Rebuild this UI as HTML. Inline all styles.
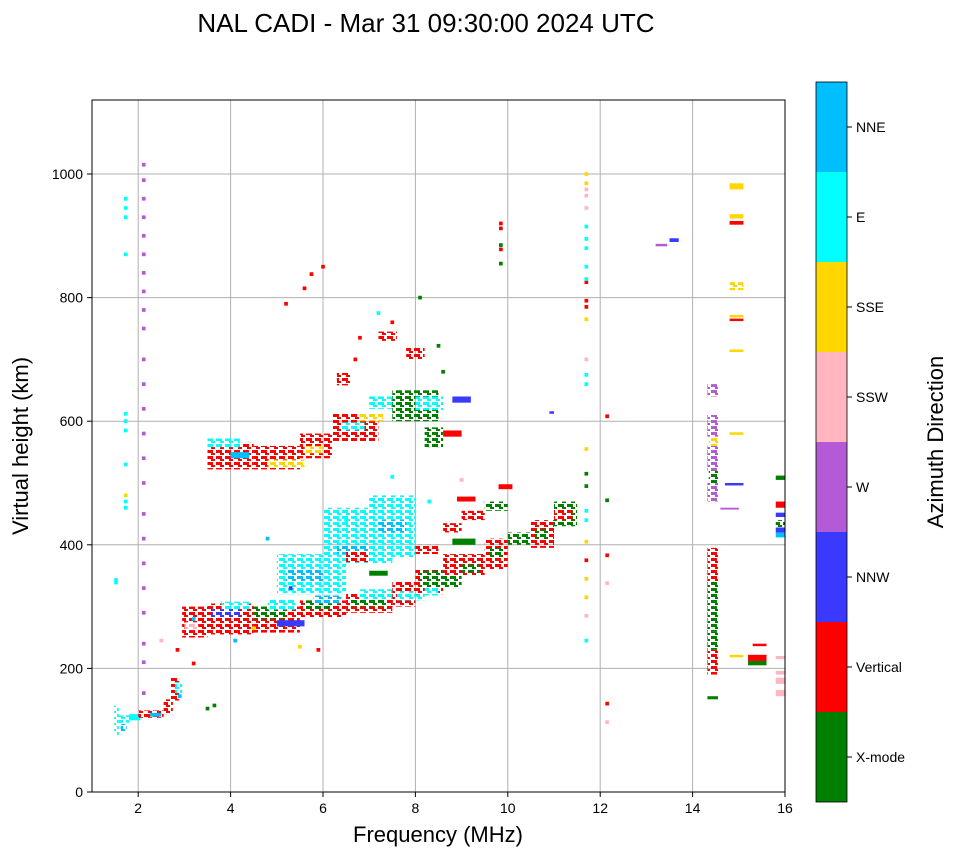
<!DOCTYPE html>
<html><head><meta charset="utf-8"><style>
body{margin:0;background:#fff;font-family:"Liberation Sans",sans-serif}
svg text{font-family:"Liberation Sans",sans-serif}
</style></head><body>
<svg id="chart" width="958" height="857" viewBox="0 0 958 857" xmlns="http://www.w3.org/2000/svg">
<defs id="defs"></defs>
<text x="426" y="32" font-size="26" text-anchor="middle">NAL CADI - Mar 31 09:30:00 2024 UTC</text>
<g id="grid"></g>
<g id="marks"></g>
<rect x="92" y="100" width="693" height="692" fill="none" stroke="#000" stroke-width="1"/>
<g id="axes"></g>
<text x="438" y="842" font-size="22" text-anchor="middle">Frequency (MHz)</text>
<text transform="translate(28,446) rotate(-90)" font-size="22" text-anchor="middle">Virtual height (km)</text>
<g id="cbar"></g>
<text transform="translate(943,442) rotate(-90)" font-size="22" text-anchor="middle">Azimuth Direction</text>
</svg>
<script>
const categories=["X-mode","Vertical","NNW","W","SSW","SSE","E","NNE"];
const catColors=["#008000","#ff0000","#3a3aff","#b35ad6","#ffb6c1","#ffd700","#00ffff","#00bfff"];
const xTicks=[2,4,6,8,10,12,14,16];
const yTicks=[0,200,400,600,800,1000];
// rectangles: [f0,f1,h0,h1,category]
const rects=[
[1.48,1.58,92,140,6],[1.58,1.8,112,124,6],[1.62,1.75,98,110,7],[1.8,2.05,116,126,6],[2.0,2.55,120,132,1],[2.25,2.5,122,128,7],
[2.55,2.75,126,150,1],[2.7,2.9,148,185,1],[2.8,2.95,160,178,6],[1.48,1.56,336,346,6],
[2.95,3.5,250,300,1],[3.0,3.3,262,275,4],[3.5,4.5,255,305,1],[3.6,4.2,282,296,2],[3.8,4.4,296,308,6],
[4.5,5.5,258,300,1],[4.5,5.2,280,300,0],[4.8,5.4,295,312,6],[5.0,5.6,268,278,2],
[5.5,6.5,282,310,1],[5.6,6.2,296,310,0],[5.8,6.4,305,318,7],
[6.5,7.5,290,322,1],[6.6,7.4,300,312,0],[6.8,7.6,312,328,6],
[7.5,8.0,300,340,1],[7.6,8.2,310,325,6],[8.0,8.6,320,360,1],[8.1,9.0,330,358,0],[8.2,8.5,318,330,6],
[8.6,9.5,350,385,1],[9.0,9.4,355,368,0],[9.5,10.0,360,410,1],[9.6,9.9,380,395,0],
[10.0,10.5,400,420,0],[10.5,11.0,395,440,1],[10.6,10.9,410,425,0],[11.0,11.5,430,470,0],[11.0,11.4,440,458,1],
[5.0,6.5,320,385,6],[5.2,6.0,340,360,7],[6.0,7.5,370,460,6],[6.3,7.0,385,400,7],[7.0,8.0,380,480,6],[7.2,7.8,420,440,7],
[6.5,7.0,372,390,1],[8.0,8.5,385,400,1],[8.6,9.0,420,435,1],[9.0,9.5,440,455,1],[8.9,9.3,470,478,1],[9.5,10.0,455,470,0],[9.8,10.1,490,498,1],[8.8,9.3,400,410,0],[7.0,7.4,350,358,0],
[3.5,4.5,522,565,1],[3.5,4.2,558,572,6],[4.0,4.4,540,550,7],[4.5,5.5,522,560,1],[4.8,5.6,525,538,5],[5.5,6.2,540,580,1],[5.6,6.0,548,560,5],
[6.2,7.2,568,612,1],[6.4,6.9,585,598,6],[6.8,7.3,600,612,5],[7.0,7.6,620,640,6],[7.5,8.5,600,650,0],[8.0,8.6,618,640,6],[8.2,8.6,558,590,0],
[6.3,6.6,658,678,1],[7.8,8.2,700,720,1],[7.2,7.6,730,745,1],[8.6,9.0,575,585,1],[8.8,9.2,630,640,2],
[14.32,14.55,470,500,3],[14.32,14.55,520,560,3],[14.32,14.55,575,610,3],[14.32,14.55,640,660,3],[14.35,14.55,500,520,0],[14.35,14.55,560,575,5],
[14.32,14.55,150,155,0],[14.32,14.55,190,230,1],[14.32,14.55,230,260,0],[14.32,14.55,260,300,0],[14.32,14.55,300,340,0],[14.32,14.55,340,360,1],[14.32,14.55,360,395,1],
[14.8,15.1,975,985,5],[14.8,15.1,928,935,5],[14.8,15.1,918,924,1],[14.8,15.1,812,825,5],[14.8,15.1,768,772,5],[14.8,15.1,762,766,1],[14.8,15.1,712,716,5],[14.8,15.1,578,582,5],[14.8,15.1,218,222,5],[14.6,15.0,457,460,3],
[15.2,15.6,205,212,0],[15.2,15.6,212,222,1],[15.3,15.6,236,240,1],[15.8,16,155,165,4],[15.8,16,175,185,4],[15.8,16,190,196,4],[15.8,16,215,220,4],
[15.8,16,412,420,7],[15.8,16,420,428,2],[15.8,16,428,440,0],[15.8,16,445,452,2],[15.8,16,460,470,1],[15.8,16,505,512,0],
[13.2,13.45,883,887,3],[13.5,13.7,890,896,2],[10.9,11.0,612,616,2],[14.7,15.1,496,500,2]
];
// single echo dots: [freq,height,category]
const dots=[
[2.12,160,3],[2.12,210,3],[2.12,240,3],[2.12,290,3],[2.12,330,3],[2.12,370,3],[2.12,410,3],[2.12,450,3],[2.12,500,3],[2.12,540,3],[2.12,580,3],[2.12,620,3],[2.12,660,3],[2.12,700,3],[2.12,750,3],[2.12,780,3],[2.12,810,3],[2.12,840,3],[2.12,870,3],[2.12,900,3],[2.12,930,3],[2.12,960,3],[2.12,990,3],[2.12,1015,3],
[1.73,460,6],[1.73,470,6],[1.73,480,5],[1.73,585,6],[1.73,600,6],[1.73,612,6],[1.73,870,6],[1.73,930,6],[1.73,945,6],[1.73,960,6],[1.73,530,6],
[11.7,245,6],[11.7,285,4],[11.7,315,5],[11.7,345,5],[11.7,375,1],[11.7,405,5],[11.7,440,6],[11.7,455,6],[11.7,495,0],[11.7,515,0],[11.7,555,5],[11.7,660,6],[11.7,675,6],[11.7,700,4],[11.7,765,5],[11.7,785,1],[11.7,795,1],[11.7,825,1],[11.7,830,6],[11.7,850,6],[11.7,880,6],[11.7,895,6],[11.7,915,6],[11.7,945,4],[11.7,965,4],[11.7,975,4],[11.7,985,5],[11.7,1000,5],
[12.15,608,1],[12.15,383,1],[12.15,338,4],[12.15,143,1],[12.15,113,4],[12.15,472,0],
[9.85,912,1],[9.85,920,1],[9.85,885,0],[9.85,878,1],[9.85,855,0],[8.1,800,0],[5.75,838,1],[6.0,850,1],[5.6,815,1],[5.2,790,1],[6.8,735,1],[7.5,760,1],[8.5,722,0],[8.6,680,0],[7.2,775,6],[6.7,700,1],
[4.8,410,7],[3.5,135,0],[3.65,140,0],[2.85,230,1],[3.2,208,1],[5.5,235,5],[5.9,230,1],[2.5,245,4],[2.9,155,7],[4.1,245,7],[4.5,265,5],[3.2,280,7],[5.3,330,2],[6.5,440,6],[7.5,510,6],[8.3,470,6],[9.0,505,4]
];
const X=f=>92+(f-1)*(785-92)/15;
const Y=h=>792-h*0.618;
const NS="http://www.w3.org/2000/svg";
function mk(tag,attrs,parent){const e=document.createElementNS(NS,tag);for(const k in attrs)e.setAttribute(k,attrs[k]);parent.appendChild(e);return e;}
const defs=document.getElementById('defs');
catColors.forEach((c,i)=>{
 const p=mk('pattern',{id:'pat'+i,patternUnits:'userSpaceOnUse',width:9,height:6},defs);
 mk('rect',{x:0,y:0,width:6,height:3,fill:c},p);
 mk('rect',{x:4,y:3,width:4,height:2,fill:c},p);
});
const grid=document.getElementById('grid'),marks=document.getElementById('marks'),axes=document.getElementById('axes'),cbar=document.getElementById('cbar');
xTicks.forEach(t=>{
 const gl=mk('line',{x1:X(t),x2:X(t),y1:100,y2:792,stroke:'#b0b0b0','stroke-width':1},grid);
 
 
 const tk=mk('line',{x1:X(t),x2:X(t),y1:792,y2:797,stroke:'#000'},axes);
 
 
 const tl=mk('text',{x:X(t),y:813,'font-size':14,'text-anchor':'middle'},axes);tl.textContent=t;
 
 
});
yTicks.forEach(t=>{
 if(t>0){const gl=mk('line',{x1:92,x2:785,y1:Y(t),y2:Y(t),stroke:'#b0b0b0','stroke-width':1},grid);
 
 }
 const tk=mk('line',{x1:87,x2:92,y1:Y(t),y2:Y(t),stroke:'#000'},axes);
 
 
 const tl=mk('text',{x:83,y:Y(t)+5,'font-size':14,'text-anchor':'end'},axes);tl.textContent=t;
 
 
});
rects.forEach(r=>{
 const h=Y(r[2])-Y(r[3]);
 const fill=h>7?'url(#pat'+r[4]+')':catColors[r[4]];
 const e=mk('rect',{x:X(r[0]),y:Y(r[3]),width:X(r[1])-X(r[0]),height:h,fill:fill},marks);
 
 
});
dots.forEach(d=>{
 const e=mk('rect',{x:X(d[0]-0.04),y:Y(d[1]+3),width:X(0.08)-X(0),height:Y(0)-Y(6),fill:catColors[d[2]]},marks);
 
 
});
const cb0=82,cb1=802,bh=(cb1-cb0)/categories.length;
categories.forEach((c,i)=>{
 const top=cb1-(i+1)*bh;
 const e=mk('rect',{x:816,y:top,width:31,height:bh,fill:catColors[i]},cbar);
 
 
 const tk=mk('line',{x1:847,x2:852,y1:top+bh/2,y2:top+bh/2,stroke:'#000'},cbar);
 
 
 const t=mk('text',{x:856,y:top+bh/2+5,'font-size':14},cbar);t.textContent=c;
 
 
});
const fr=mk('rect',{x:816,y:cb0,width:31,height:cb1-cb0,fill:'none',stroke:'#000','stroke-width':0.8},cbar);


</script>
</body></html>
